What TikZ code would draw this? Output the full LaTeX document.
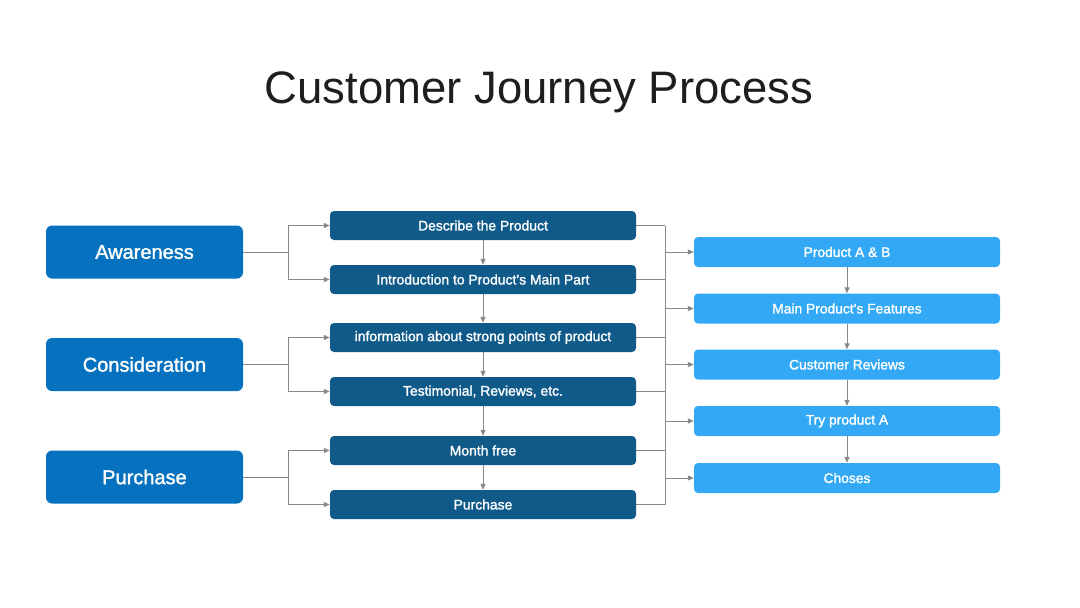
\documentclass[tikz,border=0pt]{standalone}
\usepackage{fontspec}
\setmainfont{Liberation Sans}
\newfontfamily\medfont[FakeBold=1.5]{Liberation Sans}
\usetikzlibrary{arrows.meta}
\definecolor{leftc}{RGB}{6,114,191}
\definecolor{midc}{RGB}{16,90,138}
\definecolor{rightc}{RGB}{51,169,245}
\definecolor{linec}{RGB}{136,136,136}
\definecolor{titlec}{RGB}{30,30,30}
\tikzset{
  leftbox/.style={fill=leftc, rounded corners=6pt, minimum width=197pt, minimum height=53pt, text=white, font=\medfont\fontsize{20}{24}\selectfont, inner sep=0pt},
  midbox/.style={fill=midc, rounded corners=4pt, minimum width=306pt, minimum height=29pt, text=white, font=\medfont\fontsize{13.9}{16}\selectfont, inner sep=0pt},
  rightbox/.style={fill=rightc, rounded corners=4pt, minimum width=306pt, minimum height=30pt, text=white, font=\medfont\fontsize{13.8}{16}\selectfont, inner sep=0pt},
  conn/.style={draw=linec, line width=1pt},
  arr/.style={conn, -{Triangle[length=6pt,width=5pt]}},
}
\begin{document}
\begin{tikzpicture}[x=1pt,y=-1pt]
\useasboundingbox[fill=white] (0,0) rectangle (1080,608);
\node[text=titlec, font=\fontsize{45.5}{50}\selectfont] (title) at (539,92) {Customer Journey Process};

\node[leftbox] (aw) at (144.5,252) {Awareness};
\node[leftbox] (co) at (144.5,364.5) {Consideration};
\node[leftbox] (pu) at (144.5,477) {Purchase};

\node[midbox] (m1) at (483,225.5) {Describe the Product};
\node[midbox] (m2) at (483,279.5) {Introduction to Product’s Main Part};
\node[midbox] (m3) at (483,337.5) {information about strong points of product};
\node[midbox] (m4) at (483,391.5) {Testimonial, Reviews, etc.};
\node[midbox] (m5) at (483,450.5) {Month free};
\node[midbox] (m6) at (483,504.5) {Purchase};

\node[rightbox] (r1) at (847,252) {Product A \& B};
\node[rightbox] (r2) at (847,308.5) {Main Product’s Features};
\node[rightbox] (r3) at (847,364.5) {Customer Reviews};
\node[rightbox] (r4) at (847,421) {Try product A};
\node[rightbox] (r5) at (847,478) {Choses};

% left branches
\coordinate (bx) at (288,0);
\foreach \l/\a/\b in {aw/m1/m2, co/m3/m4, pu/m5/m6}{
  \draw[conn] (\l.east) -- (\l.east -| bx);
  \draw[arr] (\l.east -| bx) |- (\a.west);
  \draw[arr] (\l.east -| bx) |- (\b.west);
}
% middle vertical arrows
\foreach \a/\b in {m1/m2, m2/m3, m3/m4, m4/m5, m5/m6}{
  \draw[arr] (\a.south) -- (\b.north);
}
% right bus
\coordinate (rx) at (665,0);
\foreach \m in {m1,m2,m3,m4,m5,m6}{
  \draw[conn] (\m.east) -- (\m.east -| rx);
}
\draw[conn] (m1.east -| rx) -- (m6.east -| rx);
\foreach \r in {r1,r2,r3,r4,r5}{
  \draw[arr] (\r.west -| rx) -- (\r.west);
}
\foreach \a/\b in {r1/r2, r2/r3, r3/r4, r4/r5}{
  \draw[arr] (\a.south) -- (\b.north);
}
\end{tikzpicture}
\end{document}
